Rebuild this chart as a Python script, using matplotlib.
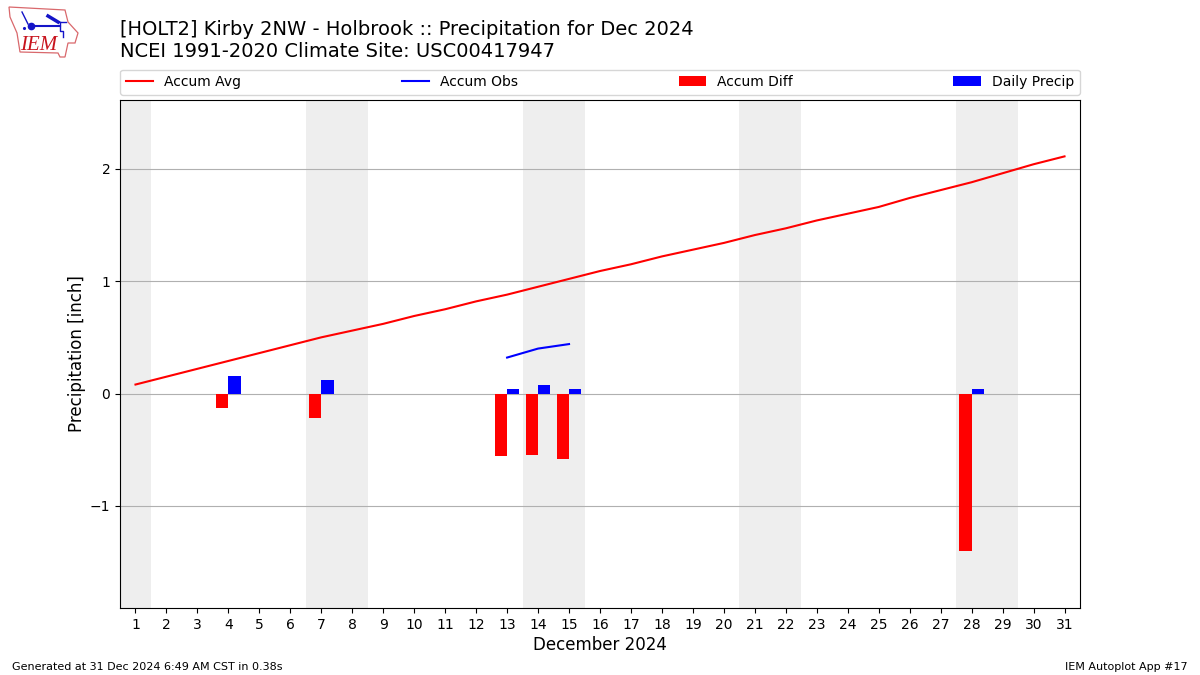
# Precipitation accumulation for December 2024
import matplotlib
matplotlib.use('Agg')
import matplotlib.pyplot as plt
from matplotlib.patches import Polygon

days = list(range(1, 32))
accum_avg = [0.08, 0.15, 0.22, 0.29, 0.36, 0.43, 0.50, 0.56, 0.62, 0.69, 0.75,
             0.82, 0.88, 0.95, 1.02, 1.09, 1.15, 1.22, 1.28, 1.34, 1.41, 1.47,
             1.54, 1.60, 1.66, 1.74, 1.81, 1.88, 1.96, 2.04, 2.11]
obs_days = [13, 14, 15]
accum_obs = [0.32, 0.40, 0.44]
precip_days = [4, 7, 13, 14, 15, 28]
daily_precip = [0.16, 0.12, 0.04, 0.08, 0.04, 0.04]
accum_diff = [-0.125, -0.215, -0.56, -0.55, -0.58, -1.40]
weekends = [(0.5, 1.5), (6.5, 8.5), (13.5, 15.5), (20.5, 22.5), (27.5, 29.5)]

fig = plt.figure(figsize=(12, 6.75), dpi=100)
ax = fig.add_axes([0.1, 0.0993, 0.8, 0.7526])

for x0, x1 in weekends:
    ax.axvspan(x0, x1, color='#eeeeee', lw=0, zorder=0)
ax.grid(axis='y', color='#b0b0b0', lw=0.8, zorder=1)
ax.set_axisbelow(True)

ax.plot(days, accum_avg, color='r', lw=1.5, label='Accum Avg', zorder=3)
ax.plot(obs_days, accum_obs, color='b', lw=1.5, label='Accum Obs', zorder=3)
ax.bar(precip_days, accum_diff, width=-0.4, align='edge', color='r', label='Accum Diff', zorder=2)
ax.bar(precip_days, daily_precip, width=0.4, align='edge', color='b', label='Daily Precip', zorder=2)

ax.set_xlim(0.5, 31.5)
ax.set_ylim(-1.908, 2.612)
ax.set_xticks(days)
ax.set_yticks([-1, 0, 1, 2])
ax.tick_params(labelsize=10)
ax.set_xlabel('December 2024', fontsize=12, labelpad=3)
ax.set_ylabel('Precipitation [inch]', fontsize=12, labelpad=2.5)
ax.legend(ncol=4, mode='expand', loc='lower left', bbox_to_anchor=(0, 1.0105, 1, 0.05),
          borderaxespad=0, fontsize=10)

fig.text(0.1, 0.909, '[HOLT2] Kirby 2NW - Holbrook :: Precipitation for Dec 2024\n'
         'NCEI 1991-2020 Climate Site: USC00417947', fontsize=14, va='bottom', ha='left',
         linespacing=1.2)
fig.text(0.01, 0.0072, 'Generated at 31 Dec 2024 6:49 AM CST in 0.38s', fontsize=8)
fig.text(0.99, 0.0072, 'IEM Autoplot App #17', fontsize=8, ha='right')

# logo, in pixels of the top left corner
logo = fig.add_axes([0, 1 - 60 / 675, 80 / 1200, 60 / 675])
logo.set_xlim(0, 80)
logo.set_ylim(60, 0)
logo.axis('off')
outline = [(9, 7), (65, 10), (68, 22), (78, 33), (75, 43), (68, 43), (65, 57),
           (60, 57), (58, 53), (20, 52), (17, 33), (10, 17)]
logo.add_patch(Polygon(outline, closed=True, fill=False, ec='#d9686c', lw=0.9))
logo.plot([31, 60], [26, 26], color='#1414c8', lw=1.5)
logo.plot([31], [26], 'o', color='#1414c8', ms=4.5)
logo.plot([22, 25, 28], [12, 18, 24], color='#1414c8', lw=1)
logo.plot([24], [28], '.', color='#1414c8', ms=2.5)
logo.plot([48, 58], [16, 22], color='#1414c8', lw=2.5)
logo.plot([58, 66], [22, 22], color='#1414c8', lw=1)
logo.plot([60, 60, 63, 63], [22, 31, 31, 37], color='#1414c8', lw=1)
logo.text(20, 45, 'IEM', family='Liberation Serif', style='italic', color='#c8141e',
          fontsize=15, va='center', ha='left')

fig.savefig('out.png', dpi=100)
